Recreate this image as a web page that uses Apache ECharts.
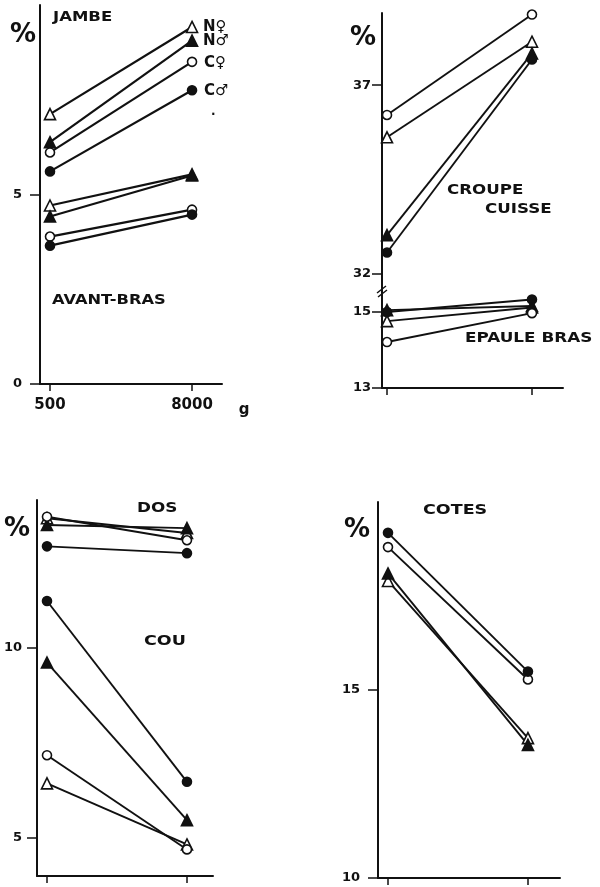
<!DOCTYPE html>
<html>
<head>
<meta charset="utf-8">
<script src="https://cdn.jsdelivr.net/npm/echarts@6.0.0/dist/echarts.min.js"></script>
<style>
  html, body { margin: 0; padding: 0; background: #fff; }
  #myChart { width: 600px; height: 887px; }
</style>
</head>
<body>
<div id="myChart"></div>
<script>
// groupes : N femelle, N male, C femelle, C male
var groupes = ['N♀', 'N♂', 'C♀', 'C♂'];
var poids = ['500', '8000'];   // g
var symboles = ['triangle', 'triangle', 'circle', 'circle'];
var pleins = [false, true, false, true];

// % par groupe (meme ordre que groupes), [500 g, 8000 g]
var jambe        = [[7.12, 9.42], [6.38, 9.06], [6.11, 8.50], [5.61, 7.75]];
var avantBras    = [[4.71, 5.53], [4.42, 5.50], [3.89, 4.60], [3.65, 4.47]];
var croupeCuisse = [[35.62, 38.15], [33.03, 37.84], [36.21, 38.87], [32.57, 37.68]];
var epauleBras   = [[14.76, 15.12], [15.05, 15.16], [14.21, 14.97], [15.00, 15.33]];
var dos          = [[13.42, 13.03], [13.24, 13.16], [13.46, 12.84], [12.68, 12.50]];
var cou          = [[6.44, 4.83], [9.62, 5.47], [7.18, 4.70], [11.24, 6.48]];
var cotes        = [[17.90, 13.72], [18.10, 13.54], [18.80, 15.28], [19.18, 15.49]];

// graduations
var ticksJambe = [0, 5];
var ticksCroupe = [32, 37];
var ticksEpaule = [13, 15];
var ticksDos = [5, 10];
var ticksCotes = [10, 15];

var NOIR = '#111';
var POLICE = '"DejaVu Sans", "Liberation Sans", sans-serif';

function series(valeurs, grille, largeur) {
  var res = [];
  for (var k = 0; k < valeurs.length; k++) {
    res.push({
      name: groupes[k],
      type: 'line',
      xAxisIndex: grille,
      yAxisIndex: grille,
      data: [[0, valeurs[k][0]], [1, valeurs[k][1]]],
      symbol: symboles[k],
      symbolSize: symboles[k] == 'triangle' ? 11 : 9,
      showSymbol: true,
      itemStyle: { color: pleins[k] ? NOIR : '#fff', borderColor: NOIR, borderWidth: 1.6, opacity: 1 },
      lineStyle: { color: NOIR, width: largeur },
      silent: true
    });
  }
  return res;
}

function axeX(grille, min, max, etiquettes) {
  return {
    type: 'value', gridIndex: grille, min: min, max: max,
    splitLine: { show: false },
    axisLine: { show: true, onZero: false, lineStyle: { color: NOIR, width: 2 } },
    axisTick: { show: true, customValues: [0, 1], length: 7, lineStyle: { color: NOIR, width: 1.5 } },
    axisLabel: {
      show: !!etiquettes, customValues: [0, 1], margin: 14,
      color: NOIR, fontFamily: POLICE, fontWeight: 'bold', fontSize: 15,
      formatter: function (v) { return etiquettes ? etiquettes[Math.round(v)] : ''; }
    }
  };
}

function axeY(grille, min, max, ticks, marge) {
  return {
    type: 'value', gridIndex: grille, min: min, max: max,
    splitLine: { show: false },
    axisLine: { show: true, onZero: false, lineStyle: { color: NOIR, width: 2 } },
    axisTick: { show: true, customValues: ticks, length: 10, lineStyle: { color: NOIR, width: 1.5 } },
    axisLabel: {
      customValues: ticks, margin: marge,
      color: NOIR, fontFamily: POLICE, fontWeight: 'bold', fontSize: 13
    }
  };
}

function texte(t, x, y, taille, echelle, align) {
  return {
    type: 'text', x: x, y: y, scaleX: echelle || 1, silent: true,
    style: {
      text: t, fill: NOIR, fontFamily: POLICE, fontWeight: 'bold', fontSize: taille,
      textAlign: align || 'left', textVerticalAlign: 'middle'
    }
  };
}

var myChart = echarts.init(document.getElementById('myChart'));

var lesSeries = []
  .concat(series(jambe, 0, 2.2))
  .concat(series(avantBras, 0, 2.2))
  .concat(series(croupeCuisse, 1, 1.9))
  .concat(series(epauleBras, 2, 1.9))
  .concat(series(dos, 3, 1.9))
  .concat(series(cou, 3, 1.9))
  .concat(series(cotes, 4, 1.9));

myChart.setOption({
  animation: false,
  backgroundColor: '#fff',
  grid: [
    { left: 40, top: 5, width: 182, height: 379 },
    { left: 382, top: 13, width: 181, height: 278 },
    { left: 382, top: 291, width: 181, height: 97 },
    { left: 37, top: 500, width: 176, height: 376 },
    { left: 378, top: 502, width: 182, height: 376 }
  ],
  xAxis: [
    axeX(0, -0.0704, 1.211, poids),
    Object.assign(axeX(1, -0.0345, 1.214), { show: false }),
    axeX(2, -0.0345, 1.214),
    axeX(3, -0.0714, 1.186),
    axeX(4, -0.0714, 1.229)
  ],
  yAxis: [
    axeY(0, 0, 10, ticksJambe, 18),
    axeY(1, 31.55, 38.91, ticksCroupe, 11),
    axeY(2, 13, 15.553, ticksEpaule, 11),
    axeY(3, 4, 13.9, ticksDos, 15),
    axeY(4, 10, 20, ticksCotes, 18)
  ],
  series: lesSeries,
  graphic: [
    // panneau 1
    texte('%', 23, 35, 26, 1, 'center'),
    texte('JAMBE', 53, 17, 14, 1.18),
    texte('AVANT-BRAS', 52, 300, 14, 1.16),
    texte(groupes[0], 203, 27, 15),
    texte(groupes[1], 203, 41, 15),
    texte(groupes[2], 204, 63, 15),
    texte(groupes[3], 204, 91, 15),
    texte('.', 211, 112, 12),
    texte('g', 244, 410, 15, 1, 'center'),
    // panneau 2
    texte('%', 363, 38, 26, 1, 'center'),
    texte('CROUPE', 447, 190, 14, 1.19),
    texte('CUISSE', 485, 209, 14, 1.19),
    texte('EPAULE BRAS', 465, 338, 14, 1.2),
    { type: 'line', silent: true, shape: { x1: 377, y1: 293, x2: 386, y2: 286 }, style: { stroke: NOIR, lineWidth: 1.5 } },
    { type: 'line', silent: true, shape: { x1: 378, y1: 297, x2: 387, y2: 290 }, style: { stroke: NOIR, lineWidth: 1.5 } },
    // panneau 3
    texte('%', 17, 529, 26, 1, 'center'),
    texte('DOS', 137, 508, 14, 1.2),
    texte('COU', 144, 641, 14, 1.25),
    // panneau 4
    texte('%', 357, 530, 26, 1, 'center'),
    texte('COTES', 423, 510, 14, 1.25)
  ]
});
</script>
</body>
</html>
